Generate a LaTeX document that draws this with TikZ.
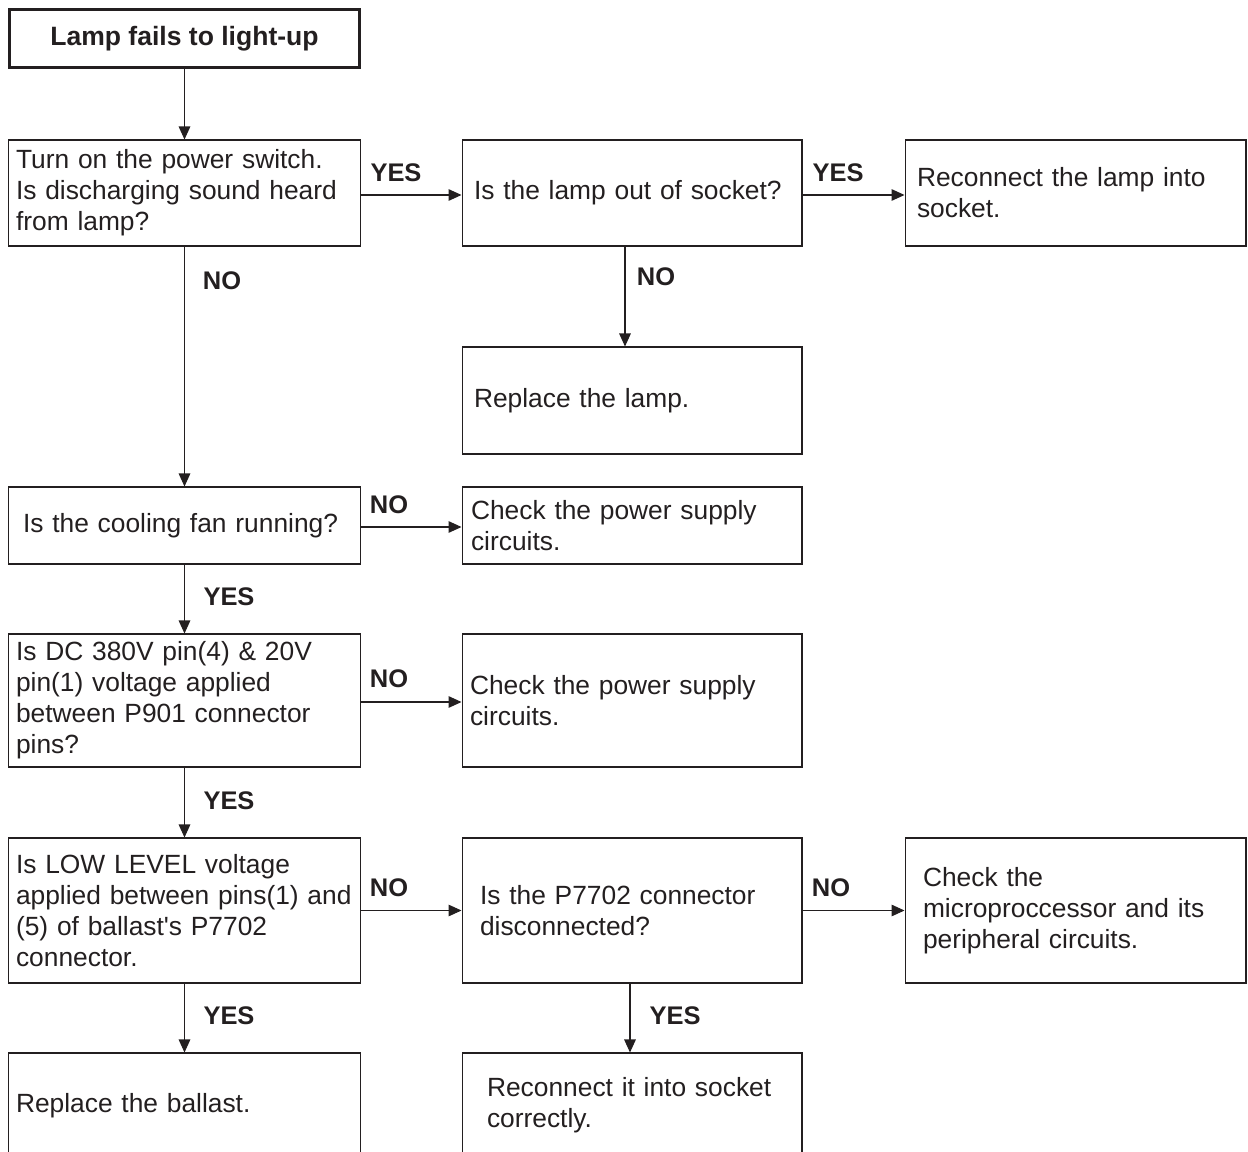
\documentclass[tikz,border=0pt]{standalone}
\usepackage{fontspec}
\setmainfont{Liberation Sans}[Ligatures=TeXOff]
\usetikzlibrary{arrows.meta, positioning, calc}

\begin{document}
\begin{tikzpicture}[x=0.02cm, y=-0.02cm,
    box/.style={draw=ink, line width=0.6pt, align=left, inner ysep=0pt, text=ink,
      font=\fontsize{15}{17.6}\selectfont},
    titlebox/.style={draw=ink, line width=1.7pt, align=center, text=ink,
      minimum width=7cm, minimum height=1.16cm, font=\fontsize{15.1}{18}\selectfont\bfseries},
    answer/.style={inner sep=0pt, text=ink, font=\fontsize{14.5}{17}\selectfont\bfseries},
    flow/.style={draw=ink, line width=0.6pt, -{Triangle[length=7.4pt, width=6.6pt]}}]
  % Define colors
  \definecolor{ink}{RGB}{35,31,32}

  % Page frame
  \path[use as bounding box, clip] (0,0) rectangle (1248,1152);

  % Start
  \node[titlebox] (lamp) at (184.5,38.5) {Lamp fails to light-up};

  % First row
  \node[box, minimum width=7.06cm, minimum height=2.12cm, text width=6.74cm, inner xsep=0.16cm]
    (power) at (184.5,193) {Turn on the power switch.\\Is discharging sound heard\\from lamp?};
  \node[box, minimum width=6.8cm, minimum height=2.12cm, text width=6.32cm, inner xsep=0.24cm]
    (socket) at (632,193) {Is the lamp out of socket?};
  \node[box, minimum width=6.82cm, minimum height=2.12cm, text width=6.34cm, inner xsep=0.24cm]
    (reseat) at (1075.5,193) {Reconnect the lamp into\\socket.};
  \node[box, minimum width=6.8cm, minimum height=2.14cm, text width=6.32cm, inner xsep=0.24cm]
    (replamp) at (632,400.5) {Replace the lamp.};

  % Cooling fan
  \node[box, minimum width=7.06cm, minimum height=1.54cm, text width=6.46cm, inner xsep=0.3cm]
    (fan) at (184.5,525.5) {Is the cooling fan running?};
  \node[box, minimum width=6.8cm, minimum height=1.54cm, text width=6.44cm, inner xsep=0.18cm]
    (psuA) at (632,525.5) {Check the power supply\\circuits.};

  % P901 voltages
  \node[box, minimum width=7.06cm, minimum height=2.66cm, text width=6.74cm, inner xsep=0.16cm]
    (dc) at (184.5,700.5) {Is DC 380V pin(4) \& 20V\\pin(1) voltage applied\\between P901 connector\\pins?};
  \node[box, minimum width=6.8cm, minimum height=2.66cm, text width=6.48cm, inner xsep=0.16cm]
    (psuB) at (632,700.5) {Check the power supply\\circuits.};

  % Ballast control
  \node[box, minimum width=7.06cm, minimum height=2.9cm, text width=6.74cm, inner xsep=0.16cm]
    (lowlvl) at (184.5,910.5) {Is LOW LEVEL voltage\\applied between pins(1) and\\(5) of ballast's P7702\\connector.};
  \node[box, minimum width=6.8cm, minimum height=2.9cm, text width=6.08cm, inner xsep=0.36cm]
    (conn) at (632,910.5) {Is the P7702 connector\\disconnected?};
  \node[box, minimum width=6.82cm, minimum height=2.9cm, text width=6.1cm, inner xsep=0.36cm]
    (micro) at (1075.5,910.5) {Check the\\microproccessor and its\\peripheral circuits.};

  % Last row (runs off the page)
  \node[box, minimum width=7.06cm, minimum height=2.1cm, text width=6.74cm, inner xsep=0.16cm]
    (ballast) at (184.5,1105.5) {Replace the ballast.};
  \node[box, minimum width=6.8cm, minimum height=2.1cm, text width=5.8cm, inner xsep=0.5cm]
    (reconn) at (632,1105.5) {Reconnect it into socket\\correctly.};

  % Connectors
  \draw[flow] (lamp) -- (power);
  \draw[flow] ($(power.east)+(0,2)$) -- ($(socket.west)+(0,2)$);
  \draw[flow] ($(socket.east)+(0,2)$) -- ($(reseat.west)+(0,2)$);
  \draw[flow] ($(socket.south)+(-7,0)$) -- ($(replamp.north)+(-7,0)$);
  \draw[flow] (power) -- (fan);
  \draw[flow] ($(fan.east)+(0,1.5)$) -- ($(psuA.west)+(0,1.5)$);
  \draw[flow] (fan) -- (dc);
  \draw[flow] ($(dc.east)+(0,1.5)$) -- ($(psuB.west)+(0,1.5)$);
  \draw[flow] (dc) -- (lowlvl);
  \draw[flow] (lowlvl) -- (conn);
  \draw[flow] (conn) -- (micro);
  \draw[flow] (lowlvl) -- (ballast);
  \draw[flow] ($(conn.south)+(-2,0)$) -- ($(reconn.north)+(-2,0)$);

  % YES / NO labels
  \node[answer] (yesA) at (396,173) {YES};
  \node[answer] (yesB) at (838,173) {YES};
  \node[answer] (noA) at (222,281) {NO};
  \node[answer] (noB) at (656,277) {NO};
  \node[answer] (noC) at (389,505) {NO};
  \node[answer] (yesC) at (229,597) {YES};
  \node[answer] (noD) at (389,679) {NO};
  \node[answer] (yesD) at (229,801) {YES};
  \node[answer] (noE) at (389,888) {NO};
  \node[answer] (noF) at (831,888) {NO};
  \node[answer] (yesE) at (229,1016) {YES};
  \node[answer] (yesF) at (675,1016) {YES};
\end{tikzpicture}
\end{document}
